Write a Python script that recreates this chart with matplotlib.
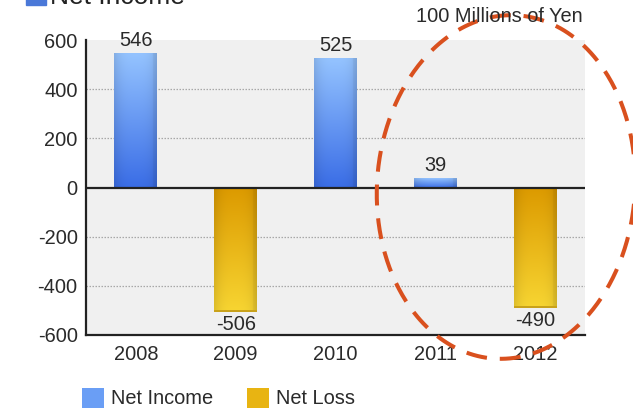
import numpy as np
import matplotlib
matplotlib.use("Agg")
import matplotlib.pyplot as plt
from matplotlib.patches import Rectangle, Patch
from matplotlib.colors import to_rgb

plt.rcParams["font.family"] = ["Liberation Sans", "DejaVu Sans"]

years = ["2008", "2009", "2010", "2011", "2012"]
net_income = [546, 0, 525, 39, 0]
net_loss = [0, -506, 0, 0, -490]
y_ticks = [-600, -400, -200, 0, 200, 400, 600]
unit_label = "100 Millions of Yen"

W, H = 633, 409
fig = plt.figure(figsize=(W / 100, H / 100), dpi=100)
fig.patch.set_facecolor("white")

ax = fig.add_axes([86 / W, 1 - 335 / H, (585 - 86) / W, (335 - 40) / H])
ax.set_facecolor("#f0f0f0")
ax.set_xlim(-0.5, len(years) - 0.5)
ax.set_ylim(-600, 600)

TXT = "#2a2a2a"

# grid and axes
for t in y_ticks:
    if t not in (0, 600, -600):
        ax.axhline(t, color="#a8a8a8", lw=0.9, ls=(0, (1.2, 1.2)), zorder=1)
ax.axhline(0, color="#222222", lw=1.6, zorder=4)
for s in ("top", "right"):
    ax.spines[s].set_visible(False)
for s in ("left", "bottom"):
    ax.spines[s].set_color("#222222")
    ax.spines[s].set_linewidth(1.6)
ax.set_yticks(y_ticks)
ax.set_yticklabels([str(t) for t in y_ticks])
ax.set_xticks(range(len(years)))
ax.set_xticklabels(years)
ax.tick_params(length=0, labelsize=14.4, colors=TXT, pad=6)
ax.tick_params(axis="x", pad=7)


def gradient_img(top, bottom, n=64):
    top, bottom = np.array(to_rgb(top)), np.array(to_rgb(bottom))
    v = np.linspace(0, 1, n)[:, None, None]
    img = top * (1 - v) + bottom * v
    # slight horizontal shading: darker toward the edges
    hx = np.linspace(-1, 1, 32)
    shade = 1 - 0.10 * np.abs(hx) ** 3 - 0.05 * (hx > 0.85)
    return np.clip(img * shade[None, :, None], 0, 1)


blue_top, blue_bot = "#94c3ff", "#3a6de6"
gold_top, gold_bot = "#dc9a00", "#f7d532"
bw = 0.43

for i, (inc, loss) in enumerate(zip(net_income, net_loss)):
    for val in (inc, loss):
        if val == 0:
            continue
        if val > 0:
            img = gradient_img(blue_top, blue_bot)
            ext = [i - bw / 2, i + bw / 2, 0, val]
            ax.imshow(img, extent=ext, aspect="auto", origin="upper",
                      zorder=2, interpolation="bilinear")
            ax.text(i, val + 12, str(val), ha="center", va="bottom",
                    fontsize=14.4, color=TXT, zorder=5)
        else:
            img = gradient_img(gold_top, gold_bot)
            ext = [i - bw / 2, i + bw / 2, val, 0]
            ax.imshow(img, extent=ext, aspect="auto", origin="upper",
                      zorder=2, interpolation="bilinear")
            ax.add_patch(Rectangle((i - bw / 2, val), bw, 6,
                                   color="#c9a21a", lw=0, zorder=3))
            ax.text(i, val - 14, str(val), ha="center", va="top",
                    fontsize=14.4, color=TXT, zorder=5)

ax.set_xlim(-0.5, len(years) - 0.5)
ax.set_ylim(-600, 600)

# unit label
fig.text(583 / W, 1 - 17 / H, unit_label, ha="right", va="center",
         fontsize=14.4, color=TXT)

# clipped header at the very top
fig.text(50 / W, 1 - 4 / H, "Net Income", ha="left", va="baseline",
         fontsize=19, color="#222222")
fig.patches.append(Rectangle((26 / W, 1 - 5 / H), 20 / W, 20 / H,
                             transform=fig.transFigure, color="#4a78d8",
                             zorder=3))

# legend
handles = [Patch(facecolor="#6a9ef5", edgecolor="none", label="Net Income"),
           Patch(facecolor="#e8b412", edgecolor="none", label="Net Loss")]
fig.legend(handles=handles, loc="center left",
           bbox_to_anchor=(64 / W, 1 - 398 / H), ncol=2, frameon=False,
           fontsize=14.4, handlelength=1.1, handleheight=1.15,
           handletextpad=0.35, columnspacing=1.7, labelcolor=TXT)

# dashed highlight ellipse
ov = fig.add_axes([0, 0, 1, 1], facecolor="none")
ov.set_xlim(0, W)
ov.set_ylim(H, 0)
ov.axis("off")
t = np.linspace(0, 2 * np.pi, 400)
a, b, phi = 129, 172, np.deg2rad(4)
cx, cy = 506, 187
ex = a * np.cos(t)
ey = b * np.sin(t)
px = cx + ex * np.cos(phi) - ey * np.sin(phi)
py = cy + ex * np.sin(phi) + ey * np.cos(phi)
ov.plot(px, py, color="#d9501e", lw=2.9, ls=(0, (5.2, 3.2)),
        solid_capstyle="butt", dash_capstyle="butt")

fig.savefig("out.png", dpi=100)
